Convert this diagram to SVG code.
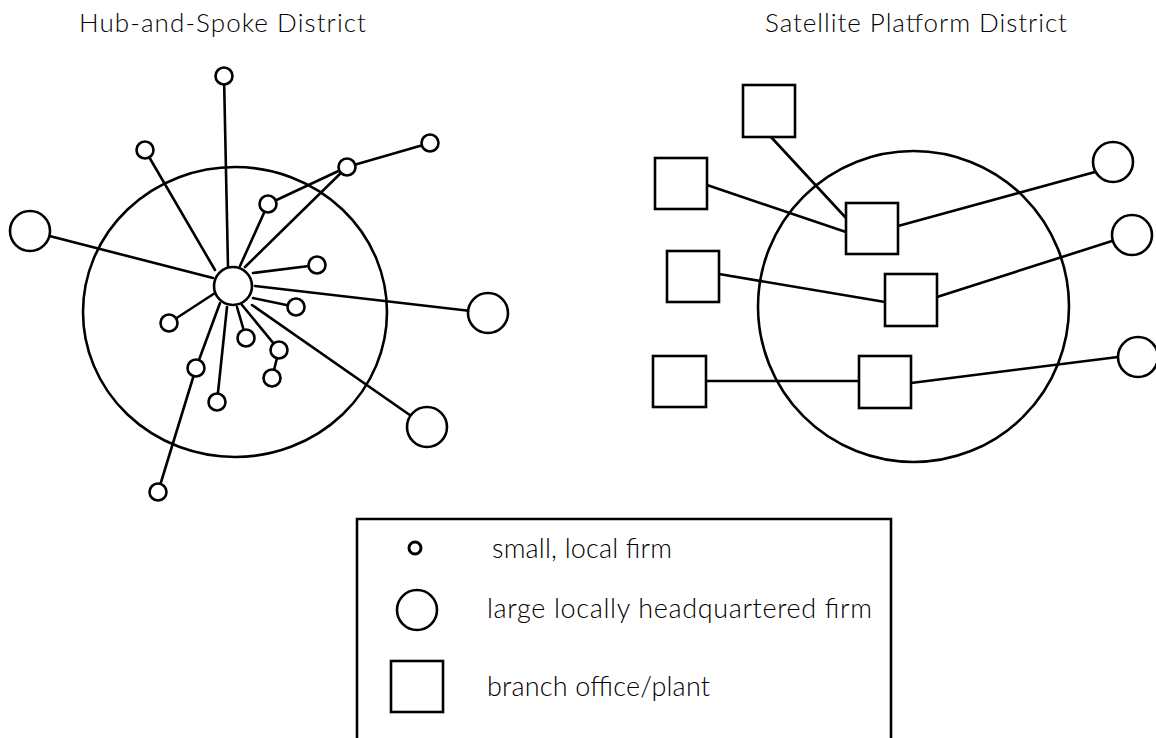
<svg xmlns="http://www.w3.org/2000/svg" width="1156" height="738" viewBox="0 0 1156 738">
  <style>
    .bg { fill: #ffffff; }
    .edge { stroke: #000000; stroke-width: 2.6; fill: none; stroke-linecap: round; }
    .node { stroke: #000000; stroke-width: 2.6; fill: #ffffff; }
    .region { stroke: #000000; stroke-width: 2.6; fill: none; }
    .title { font-family: "Lato", "Open Sans", "Liberation Sans", sans-serif; font-weight: 300; font-size: 26px; fill: #000000; }
    .label { font-family: "Lato", "Open Sans", "Liberation Sans", sans-serif; font-weight: 300; font-size: 27px; fill: #000000; }
  </style>
  <rect class="bg" x="0" y="0" width="1156" height="738"/>

  <!-- titles -->
  <text class="title" x="79" y="32" textLength="287">Hub-and-Spoke District</text>
  <text class="title" x="765" y="32" textLength="302">Satellite Platform District</text>

  <!-- district boundaries -->
  <g id="district-hub">
    <ellipse class="region" cx="235" cy="312" rx="152" ry="145"/>
  </g>
  <g id="district-satellite">
    <ellipse class="region" cx="913.5" cy="306.5" rx="155.5" ry="155.5"/>
  </g>

  <!-- connectors -->
  <g id="connectors">
    <line class="edge" x1="228" y1="267" x2="224" y2="76"/>
    <line class="edge" x1="215" y1="270" x2="145" y2="150"/>
    <line class="edge" x1="213" y1="278" x2="30" y2="231"/>
    <line class="edge" x1="240" y1="266" x2="268" y2="204"/>
    <line class="edge" x1="245" y1="267" x2="347" y2="167"/>
    <line class="edge" x1="268" y1="204" x2="347" y2="167"/>
    <line class="edge" x1="347" y1="167" x2="430" y2="143"/>
    <line class="edge" x1="253" y1="273" x2="317" y2="265"/>
    <line class="edge" x1="255" y1="286" x2="488" y2="313"/>
    <line class="edge" x1="253" y1="298" x2="296" y2="307"/>
    <line class="edge" x1="215" y1="293" x2="169" y2="323"/>
    <line class="edge" x1="252" y1="305" x2="427" y2="427"/>
    <line class="edge" x1="237" y1="307" x2="246" y2="338"/>
    <line class="edge" x1="242" y1="305" x2="279" y2="350"/>
    <line class="edge" x1="279" y1="350" x2="272" y2="378"/>
    <line class="edge" x1="220" y1="303" x2="196" y2="368"/>
    <line class="edge" x1="227" y1="307" x2="217" y2="402"/>
    <line class="edge" x1="196" y1="368" x2="158" y2="492"/>

    <line class="edge" x1="771" y1="137" x2="846" y2="218"/>
    <line class="edge" x1="707" y1="185" x2="846" y2="232"/>
    <line class="edge" x1="898" y1="226" x2="1095" y2="172"/>
    <line class="edge" x1="719" y1="274" x2="885" y2="302"/>
    <line class="edge" x1="937" y1="297" x2="1112" y2="241"/>
    <line class="edge" x1="706" y1="381" x2="859" y2="381"/>
    <line class="edge" x1="911" y1="383" x2="1118" y2="357"/>
  </g>

  <!-- hub-and-spoke firms -->
  <g id="hub"><circle class="node" cx="233" cy="286" r="19"/></g>
  <g id="small-top"><circle class="node" cx="224" cy="76" r="8.5"/></g>
  <g id="small-upper-left"><circle class="node" cx="145" cy="150" r="8.5"/></g>
  <g id="small-far-right"><circle class="node" cx="430" cy="143" r="8.5"/></g>
  <g id="small-upper-right"><circle class="node" cx="347" cy="167" r="8.5"/></g>
  <g id="small-inner-upper"><circle class="node" cx="268" cy="204" r="8.5"/></g>
  <g id="small-inner-right"><circle class="node" cx="317" cy="265" r="8.5"/></g>
  <g id="small-inner-mid"><circle class="node" cx="296" cy="307" r="8.5"/></g>
  <g id="small-inner-left"><circle class="node" cx="169" cy="323" r="8.5"/></g>
  <g id="small-inner-a"><circle class="node" cx="246" cy="338" r="8.5"/></g>
  <g id="small-inner-b"><circle class="node" cx="279" cy="350" r="8.5"/></g>
  <g id="small-inner-c"><circle class="node" cx="272" cy="378" r="8.5"/></g>
  <g id="small-inner-d"><circle class="node" cx="196" cy="368" r="8.5"/></g>
  <g id="small-inner-e"><circle class="node" cx="217" cy="402" r="8.5"/></g>
  <g id="small-bottom"><circle class="node" cx="158" cy="492" r="8.5"/></g>
  <g id="large-left"><circle class="node" cx="30" cy="231" r="20"/></g>
  <g id="large-right"><circle class="node" cx="488" cy="313" r="20"/></g>
  <g id="large-lower-right"><circle class="node" cx="427" cy="427" r="20"/></g>

  <!-- satellite platform firms -->
  <g id="branch-top"><rect class="node" x="743" y="85" width="52" height="52"/></g>
  <g id="branch-left-1"><rect class="node" x="655" y="158" width="52" height="51"/></g>
  <g id="branch-left-2"><rect class="node" x="667" y="251" width="52" height="51"/></g>
  <g id="branch-left-3"><rect class="node" x="653" y="356" width="53" height="51"/></g>
  <g id="branch-inner-1"><rect class="node" x="846" y="203" width="52" height="51"/></g>
  <g id="branch-inner-2"><rect class="node" x="885" y="274" width="52" height="52"/></g>
  <g id="branch-inner-3"><rect class="node" x="859" y="356" width="52" height="52"/></g>
  <g id="large-sat-1"><circle class="node" cx="1113" cy="162" r="20"/></g>
  <g id="large-sat-2"><circle class="node" cx="1132" cy="235" r="20"/></g>
  <g id="large-sat-3"><circle class="node" cx="1138" cy="357" r="20"/></g>

  <!-- legend -->
  <g id="legend">
    <path class="region" d="M357,740 V519 H891 V740"/>
    <circle class="node" cx="415" cy="548" r="6" style="stroke-width:3"/>
    <text class="label" x="492" y="558" textLength="180">small, local firm</text>
    <circle class="node" cx="417" cy="610" r="20"/>
    <text class="label" x="487" y="618" textLength="385">large locally headquartered firm</text>
    <rect class="node" x="391" y="661" width="52" height="51"/>
    <text class="label" x="487" y="696" textLength="223">branch office/plant</text>
  </g>
</svg>
